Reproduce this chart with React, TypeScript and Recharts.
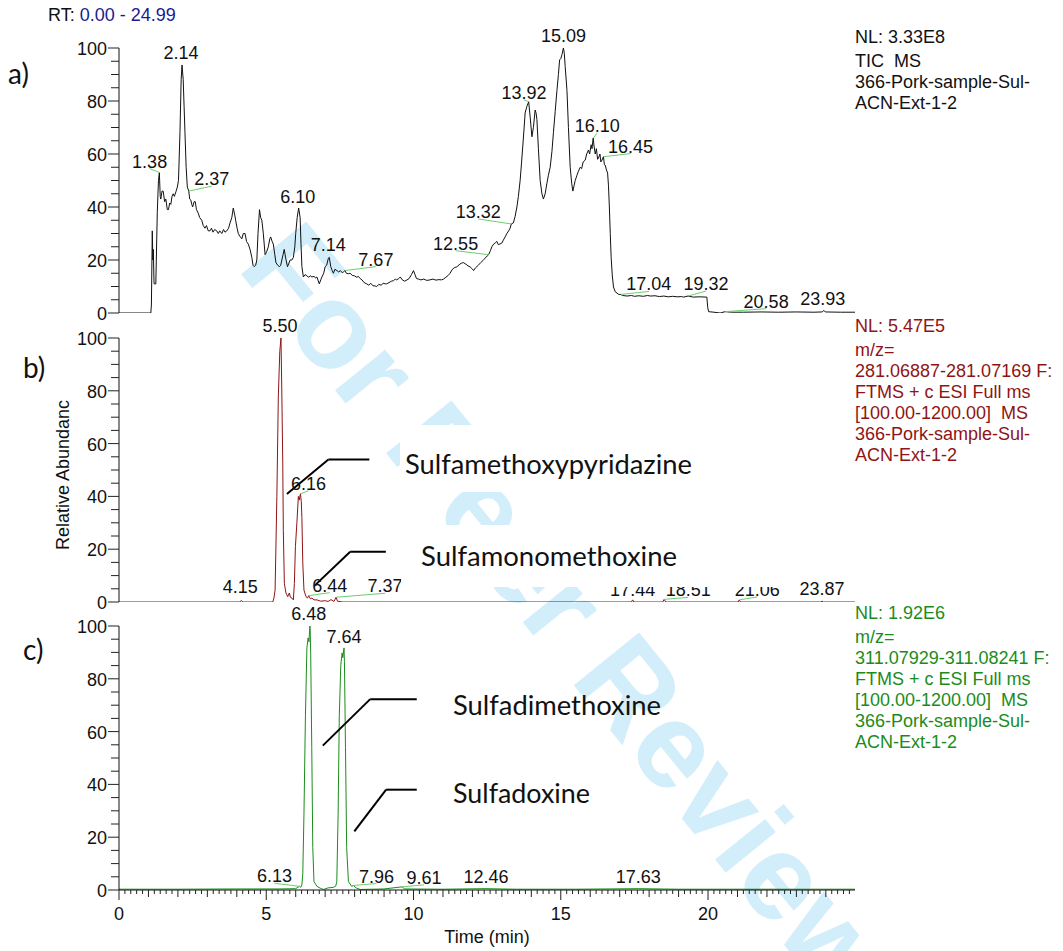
import React from 'react';
import { LineChart, Line, XAxis, YAxis, ReferenceDot, ReferenceLine } from 'recharts';

const ARIAL = '"Liberation Sans", Arial, sans-serif';
const CALIBRI = 'Lato, "Open Sans", sans-serif';
const RT_MAX = 24.99;

// a) TIC trace
const ticTime = [
  0, 1.08, 1.1, 1.13, 1.15, 1.165, 1.19, 1.25, 1.3, 1.34, 1.37, 1.4, 1.42, 1.46, 1.5, 1.55, 1.59, 1.64, 1.68, 1.72,
  1.76, 1.8, 1.84, 1.88, 1.94, 1.98, 2.02, 2.07, 2.11, 2.14, 2.18, 2.21, 2.24, 2.28, 2.32, 2.37, 2.4, 2.44, 2.47, 2.5,
  2.55, 2.59, 2.63, 2.69, 2.74, 2.81, 2.86, 2.92, 2.97, 3.03, 3.09, 3.14, 3.19, 3.25, 3.32, 3.37, 3.42, 3.49, 3.55, 3.6,
  3.66, 3.72, 3.77, 3.83, 3.88, 3.93, 3.96, 4.01, 4.05, 4.1, 4.17, 4.22, 4.28, 4.33, 4.39, 4.45, 4.51, 4.55, 4.59, 4.64,
  4.68, 4.72, 4.77, 4.81, 4.85, 4.9, 4.96, 5.01, 5.07, 5.12, 5.15, 5.2, 5.24, 5.29, 5.33, 5.39, 5.45, 5.49, 5.53, 5.57,
  5.61, 5.66, 5.72, 5.76, 5.81, 5.87, 5.92, 5.97, 6.0, 6.05, 6.1, 6.15, 6.18, 6.21, 6.26, 6.32, 6.38, 6.44, 6.5, 6.55,
  6.62, 6.68, 6.72, 6.8, 6.85, 6.89, 6.95, 7.0, 7.05, 7.11, 7.14, 7.19, 7.24, 7.28, 7.33, 7.4, 7.46, 7.52, 7.58, 7.62,
  7.67, 7.72, 7.79, 7.85, 7.92, 8.0, 8.07, 8.13, 8.19, 8.25, 8.32, 8.41, 8.48, 8.55, 8.62, 8.7, 8.75, 8.82, 8.9, 8.97,
  9.05, 9.09, 9.17, 9.25, 9.32, 9.38, 9.43, 9.5, 9.55, 9.62, 9.7, 9.78, 9.85, 9.93, 10.0, 10.05, 10.1, 10.17, 10.25, 10.35,
  10.45, 10.56, 10.66, 10.76, 10.86, 10.95, 11.02, 11.1, 11.18, 11.24, 11.32, 11.4, 11.47, 11.55, 11.62, 11.7, 11.78, 11.85, 11.92, 11.98,
  12.04, 12.1, 12.2, 12.28, 12.36, 12.43, 12.5, 12.55, 12.61, 12.66, 12.72, 12.78, 12.83, 12.88, 12.93, 13.0, 13.05, 13.11, 13.17, 13.23,
  13.28, 13.32, 13.39, 13.45, 13.51, 13.56, 13.62, 13.67, 13.71, 13.75, 13.79, 13.85, 13.91, 13.96, 14.02, 14.07, 14.13, 14.16, 14.19, 14.24,
  14.3, 14.36, 14.41, 14.47, 14.53, 14.58, 14.64, 14.7, 14.75, 14.81, 14.87, 14.92, 14.96, 15.0, 15.04, 15.09, 15.12, 15.15, 15.21, 15.26,
  15.32, 15.37, 15.41, 15.45, 15.49, 15.55, 15.6, 15.66, 15.71, 15.76, 15.83, 15.88, 15.94, 15.98, 16.03, 16.06, 16.1, 16.13, 16.17, 16.21,
  16.25, 16.28, 16.33, 16.36, 16.4, 16.45, 16.48, 16.51, 16.55, 16.59, 16.62, 16.65, 16.68, 16.71, 16.75, 16.79, 16.85, 16.91, 16.97, 17.04,
  17.1, 17.25, 17.4, 17.5, 17.65, 17.8, 17.95, 18.04, 18.2, 18.35, 18.5, 18.65, 18.8, 18.95, 19.1, 19.17, 19.32, 19.5, 19.7, 19.96,
  19.99, 20.02, 20.2, 20.41, 20.58, 20.8, 21.2, 21.8, 22.4, 23.0, 23.6, 23.88, 23.93, 23.98, 24.5, 24.99,
];
const ticAbund = [
  0, 0, 3, 31, 20, 24, 11, 11, 38, 50, 53, 44, 43, 46, 46, 42, 43, 39, 39, 41.5,
  41, 44, 45, 44, 46, 47.5, 50, 68, 88, 93.6, 88, 78, 68, 55, 47.5, 46, 43, 42.6, 41, 40,
  42, 42, 39, 37.7, 36, 35, 33, 32, 33, 31, 31, 32, 30.5, 31.5, 31, 30, 31, 30, 31.5, 30.5,
  31, 32, 34, 36, 39.6, 37, 35, 32, 30, 29, 28, 30, 30, 27, 26, 24, 21, 18, 17.5, 18,
  20, 30, 39, 36, 35, 30, 22, 23, 25, 28, 28.7, 27, 26, 22, 19, 18, 17.5, 18, 20, 22,
  24, 20.7, 17.5, 18.5, 20, 20, 21, 25, 30, 36, 39.6, 36, 26, 17.5, 13.6, 14.5, 14, 13.5, 14, 13.6,
  13.8, 13.2, 13.6, 11, 12.5, 13.6, 15, 17.5, 18, 20.7, 21, 17.5, 16, 15, 16.5, 16, 15.5, 16, 15.2, 15.5,
  16, 15, 14.8, 15, 14.2, 14, 13.5, 13.8, 13, 12.5, 11.5, 11, 10.5, 11.2, 10.3, 10.2, 10, 10.8, 10.5, 11.2,
  11, 11, 11.5, 12, 12.2, 12.8, 12.5, 13, 13.6, 12.5, 12, 12.5, 13, 14.5, 16, 14.5, 13, 12.8, 12.5, 12.8,
  12.3, 12.5, 12.8, 12.4, 12.6, 12.5, 12.8, 13.5, 14.2, 15, 16.5, 17.2, 17.4, 18.2, 18.8, 19, 18.4, 17.8, 17.4, 16.8,
  16, 17, 18, 19, 19.8, 20.7, 21.5, 22, 23.5, 25, 26, 26.5, 27, 25.8, 26, 26.4, 27.5, 28.7, 30, 31,
  32, 33.6, 34, 36.5, 40, 44, 50, 57, 63, 69, 75.5, 78, 79.7, 74, 66.5, 70, 76.6, 75.5, 73, 62,
  50, 45, 43, 45, 49, 52, 55, 61, 68, 76, 84, 90, 95.5, 96, 97.5, 100, 98, 93, 84, 70,
  55, 49, 46, 48, 50, 52, 53.5, 55, 54.5, 57, 57.7, 60, 61.5, 60, 63.5, 62, 66, 63, 60, 62,
  58, 58.5, 60, 57, 57.7, 59, 56, 55.8, 54, 52.8, 48, 40, 30, 21, 14, 9.8, 8, 7.5, 7, 7,
  6.6, 6.4, 6.6, 6.3, 6.5, 6.3, 6.6, 6.4, 6.5, 6.2, 6.4, 6.1, 6.3, 6.1, 6.2, 6, 6.4, 6, 6.1, 6,
  2, 0.5, 0.3, 0, 0.5, 0.3, 0.3, 0.4, 0.3, 0.4, 0.3, 0.4, 1, 0.4, 0.3, 0.3,
];

// b) m/z 281.07 trace
const smxTime = [
  0, 4.1, 4.15, 4.2, 5.22, 5.26, 5.3, 5.36, 5.41, 5.46, 5.5, 5.53, 5.56, 5.58, 5.615, 5.67, 5.73, 5.76, 5.785, 5.82,
  5.87, 5.92, 5.955, 5.99, 6.04, 6.09, 6.12, 6.16, 6.19, 6.21, 6.24, 6.28, 6.35, 6.4, 6.44, 6.5, 6.55, 6.62, 6.72, 6.85,
  7.0, 7.1, 7.2, 7.3, 7.37, 7.42, 7.6, 17.4, 17.44, 17.48, 18.46, 18.51, 18.56, 21.02, 21.06, 21.1, 23.83, 23.87, 23.91, 24.99,
];
const smxAbund = [
  0, 0, 0.6, 0, 0, 1.5, 4.5, 40, 78, 95, 100, 78, 53, 27, 7, 3.4, 2, 3, 3.4, 1.8,
  1.5, 0.8, 7, 21, 30, 40, 38.6, 41, 38, 32, 14.8, 4.5, 2, 1.5, 2.4, 1.2, 1.5, 0.8, 0.8, 0.3,
  0.5, 0.2, 0.9, 0.2, 1.8, 0.3, 0, 0, 0.8, 0, 0, 1, 0, 0, 0.8, 0, 0, 0.4, 0, 0,
];

// c) m/z 311.08 trace
const sdmTime = [
  0, 2, 4, 5.5, 6.0, 6.13, 6.17, 6.21, 6.24, 6.28, 6.33, 6.38, 6.42, 6.45, 6.48, 6.49, 6.51, 6.545, 6.58, 6.62,
  6.72, 6.85, 6.94, 7.1, 7.28, 7.36, 7.395, 7.44, 7.48, 7.53, 7.575, 7.6, 7.64, 7.655, 7.69, 7.73, 7.79, 7.9, 7.96, 8.05,
  8.19, 9.0, 9.61, 9.7, 11.0, 12.46, 13.5, 15.5, 17.63, 19.0, 22.0, 24.99,
];
const sdmAbund = [
  0.3, 0.3, 0.4, 0.4, 0.5, 1.4, 1, 2, 6, 28.6, 66, 91.7, 95.5, 94, 100, 99, 89, 54, 16, 3.2,
  1.4, 0.6, 0.2, 0.8, 1, 1.5, 3.2, 28.6, 66, 85, 89.8, 88, 91.7, 86.5, 54, 16, 3.2, 1.4, 1.7, 0.8,
  0.2, 0.4, 1.2, 0.4, 0.3, 0.5, 0.3, 0.3, 0.5, 0.3, 0.3, 0.3,
];

// peak labels (retention time, abundance)
const ticPeakRt = [1.38, 2.14, 2.37, 6.1, 7.14, 7.67, 12.55, 13.32, 13.92, 15.09, 16.1, 16.45, 17.04, 19.32, 20.58, 23.93];
const ticPeakAbund = [53, 93.6, 46, 39.6, 21, 16, 22, 33.6, 79.7, 100, 66, 59, 7, 6.4, 0.5, 1];
const smxPeakRt = [4.15, 5.5, 6.16, 6.44, 7.37, 17.44, 18.51, 21.06, 23.87];
const smxPeakAbund = [0.6, 100, 41, 2.4, 1.8, 0.8, 1, 0.8, 0.4];
const sdmPeakRt = [6.13, 6.48, 7.64, 7.96, 9.61, 12.46, 17.63];
const sdmPeakAbund = [1.4, 100, 91.7, 1.7, 1.2, 0.5, 0.5];

// label placement (pixel offset of label from its peak)
const ticLabelOffset = [[-10, -5], [-1, -6], [23, -6], [-1, -5], [-1, -6], [31, -5], [-33, -5], [-33, -6], [-5, -3], [0, -6], [4, -6], [27, -4], [28, -4], [18, -6], [41, -4], [-1, -5]];
const smxLabelOffset = [[-1, -7], [-1, -6], [8, -4], [21, -4], [49, -5], [0, -4], [24, -3], [18, -4], [0, -6]];
const sdmLabelOffset = [[-25, -4], [-1, -6], [0, -5], [23, -3], [22, -3], [0, -6], [0, -6]];

const Y_TICKS = Array.from({ length: 21 }, (_, i) => i * 5);
const X_TICKS = Array.from({ length: 125 }, (_, i) => Math.round(i * 2) / 10);
const X_LABELS = [0, 5, 10, 15, 20];

const TIC_INFO = ['NL: 3.33E8', 'TIC\u00a0\u00a0MS', '366-Pork-sample-Sul-', 'ACN-Ext-1-2'];
const SMX_INFO = ['NL: 5.47E5', 'm/z=', '281.06887-281.07169 F:', 'FTMS + c ESI Full ms', '[100.00-1200.00]\u00a0\u00a0MS', '366-Pork-sample-Sul-', 'ACN-Ext-1-2'];
const SDM_INFO = ['NL: 1.92E6', 'm/z=', '311.07929-311.08241 F:', 'FTMS + c ESI Full ms', '[100.00-1200.00]\u00a0\u00a0MS', '366-Pork-sample-Sul-', 'ACN-Ext-1-2'];

const RED = '#8f1414';
const GREEN = '#1b8c1b';
const LABEL_LINE = '#6ccf6c';

function YTick(props: any) {
  const { x, y, payload } = props;
  const v = payload.value as number;
  const major = v % 20 === 0;
  return (
    <g>
      <line x1={x - (major ? 11 : 8)} x2={x} y1={y} y2={y} stroke="#222" strokeWidth={1} />
      {major && (
        <text x={x - 12} y={y + 7} textAnchor="end" fontSize={18} fontFamily={ARIAL} fill="#111">
          {v}
        </text>
      )}
    </g>
  );
}

function XTick(props: any) {
  const { x, y, payload } = props;
  const v = payload.value as number;
  const isMajor = Math.abs(v / 5 - Math.round(v / 5)) < 1e-6;
  const isInt = Math.abs(v - Math.round(v)) < 1e-6;
  const len = isMajor ? 10 : isInt ? 7 : 4;
  return (
    <g>
      <line x1={x} x2={x} y1={y} y2={y + len} stroke="#222" strokeWidth={1} />
      {isMajor && X_LABELS.includes(Math.round(v)) && (
        <text x={x} y={y + 30} textAnchor="middle" fontSize={18} fontFamily={ARIAL} fill="#111">
          {Math.round(v)}
        </text>
      )}
    </g>
  );
}

const peakShape = (text: string, dx: number, dy: number) => (p: any) => {
  const { cx, cy } = p;
  const lx = cx + dx;
  const ly = cy + dy;
  return (
    <g>
      {Math.abs(dx) > 3 && <line x1={cx} y1={cy} x2={lx} y2={ly + 1} stroke={LABEL_LINE} strokeWidth={1} />}
      <text x={lx} y={ly} textAnchor="middle" fontSize={18} fontFamily={ARIAL} fill="#111">
        {text}
      </text>
    </g>
  );
};

type PanelProps = {
  top: number;
  height: number;
  marginTop: number;
  marginBottom: number;
  time: number[];
  abund: number[];
  color: string;
  peakRt: number[];
  peakAbund: number[];
  offsets: number[][];
  showTicks?: boolean;
  callouts?: { x: number; y: number }[][];
};

function Panel({ top, height, marginTop, marginBottom, time, abund, color, peakRt, peakAbund, offsets, showTicks, callouts }: PanelProps) {
  const data = time.map((t, i) => ({ t, v: abund[i] }));
  return (
    <div style={{ position: 'absolute', left: 0, top, width: 1063, height }}>
      <LineChart width={1063} height={height} data={data} margin={{ top: marginTop, right: 208, bottom: marginBottom, left: 79 }}>
        <XAxis
          dataKey="t"
          type="number"
          domain={[0, RT_MAX]}
          allowDataOverflow
          ticks={showTicks ? X_TICKS : []}
          interval={0}
          tick={showTicks ? <XTick /> : false}
          tickLine={false}
          tickSize={0}
          tickMargin={0}
          height={showTicks ? 40 : 0}
          axisLine={{ stroke: '#111', strokeWidth: 1 }}
        />
        <YAxis
          type="number"
          domain={[0, 100]}
          allowDataOverflow
          ticks={Y_TICKS}
          interval={0}
          tick={<YTick />}
          tickLine={false}
          tickSize={0}
          tickMargin={0}
          width={40}
          axisLine={{ stroke: '#111', strokeWidth: 1 }}
        />
        <Line type="linear" dataKey="v" stroke={color} strokeWidth={1} dot={false} isAnimationActive={false} />
        {peakRt.map((rt, i) => (
          <ReferenceDot
            key={'p' + i}
            x={rt}
            y={peakAbund[i]}
            r={0}
            ifOverflow="visible"
            shape={peakShape(rt.toFixed(2), offsets[i][0], offsets[i][1])}
          />
        ))}
        {(callouts || []).map((seg, i) => (
          <ReferenceLine key={'c' + i} segment={seg as any} stroke="#000" strokeWidth={2} ifOverflow="visible" />
        ))}
      </LineChart>
    </div>
  );
}

// callout lines pointing from compound names to peaks (data coordinates)
const smxCallouts = [
  [{ x: 5.7, y: 40.9 }, { x: 7.11, y: 54 }],
  [{ x: 7.11, y: 54 }, { x: 8.5, y: 54 }],
  [{ x: 6.66, y: 6.4 }, { x: 7.85, y: 19 }],
  [{ x: 7.85, y: 19 }, { x: 9.06, y: 19 }],
];
const sdmCallouts = [
  [{ x: 6.92, y: 54.7 }, { x: 8.53, y: 72.3 }],
  [{ x: 8.53, y: 72.3 }, { x: 10.11, y: 72.3 }],
  [{ x: 7.99, y: 22.2 }, { x: 9.07, y: 38 }],
  [{ x: 9.07, y: 38 }, { x: 10.11, y: 38 }],
];

function InfoBlock({ lines, y0, color }: { lines: string[]; y0: number; color: string }) {
  return (
    <g>
      {lines.map((s, i) => (
        <text key={i} x={855} y={i === 0 ? y0 : y0 + 24 + (i - 1) * 21} fontSize={18} fontFamily={ARIAL} fill={color}>
          {s}
        </text>
      ))}
    </g>
  );
}

export default function App() {
  return (
    <div style={{ position: 'absolute', left: 0, top: 0, width: 1063, height: 951, background: '#fff', overflow: 'hidden' }}>
      <svg width={1063} height={951} style={{ position: 'absolute', left: 0, top: 0 }}>
        <text
          transform="translate(236,268) rotate(51)"
          fontSize={122}
          fontWeight="bold"
          fontFamily={ARIAL}
          fill="#d3eefb"
        >
          For Peer Review
        </text>
      </svg>

      <Panel top={0} height={330} marginTop={48} marginBottom={17} time={ticTime} abund={ticAbund} color="#111"
        peakRt={ticPeakRt} peakAbund={ticPeakAbund} offsets={ticLabelOffset} />
      <Panel top={310} height={305} marginTop={28} marginBottom={13} time={smxTime} abund={smxAbund} color={RED}
        peakRt={smxPeakRt} peakAbund={smxPeakAbund} offsets={smxLabelOffset} callouts={smxCallouts} />
      <Panel top={600} height={351} marginTop={26} marginBottom={21} time={sdmTime} abund={sdmAbund} color={GREEN}
        peakRt={sdmPeakRt} peakAbund={sdmPeakAbund} offsets={sdmLabelOffset} callouts={sdmCallouts} showTicks />

      <svg width={1063} height={951} style={{ position: 'absolute', left: 0, top: 0, pointerEvents: 'none' }}>
        <text x={48} y={21} fontSize={18} fontFamily={ARIAL} fill="#111">
          RT: <tspan fill="#1c1c8f">0.00 - 24.99</tspan>
        </text>

        <text x={8} y={84} fontSize={28} fontFamily={CALIBRI} fill="#111">a)</text>
        <text x={23} y={378} fontSize={28} fontFamily={CALIBRI} fill="#111">b)</text>
        <text x={23} y={660} fontSize={28} fontFamily={CALIBRI} fill="#111">c)</text>

        <text transform="translate(69,475) rotate(-90)" textAnchor="middle" fontSize={18} fontFamily={ARIAL} fill="#111">
          Relative Abundanc
        </text>
        <text x={487} y={943} textAnchor="middle" fontSize={18} fontFamily={ARIAL} fill="#111">Time (min)</text>

        <InfoBlock lines={TIC_INFO} y0={43} color="#111" />
        <InfoBlock lines={SMX_INFO} y0={332} color={RED} />
        <InfoBlock lines={SDM_INFO} y0={619} color={GREEN} />

        <rect x={400} y={425} width={300} height={67} fill="#fff" />
        <rect x={401} y={525} width={389} height={62} fill="#fff" />
        <text x={405} y={474} fontSize={26} fontFamily={CALIBRI} fill="#111" textLength={287} lengthAdjust="spacingAndGlyphs">
          Sulfamethoxypyridazine
        </text>
        <text x={421} y={566} fontSize={26} fontFamily={CALIBRI} fill="#111" textLength={256} lengthAdjust="spacingAndGlyphs">
          Sulfamonomethoxine
        </text>
        <text x={453} y={715} fontSize={26} fontFamily={CALIBRI} fill="#111" textLength={208} lengthAdjust="spacingAndGlyphs">
          Sulfadimethoxine
        </text>
        <text x={453} y={803} fontSize={26} fontFamily={CALIBRI} fill="#111" textLength={137} lengthAdjust="spacingAndGlyphs">
          Sulfadoxine
        </text>
      </svg>
    </div>
  );
}
